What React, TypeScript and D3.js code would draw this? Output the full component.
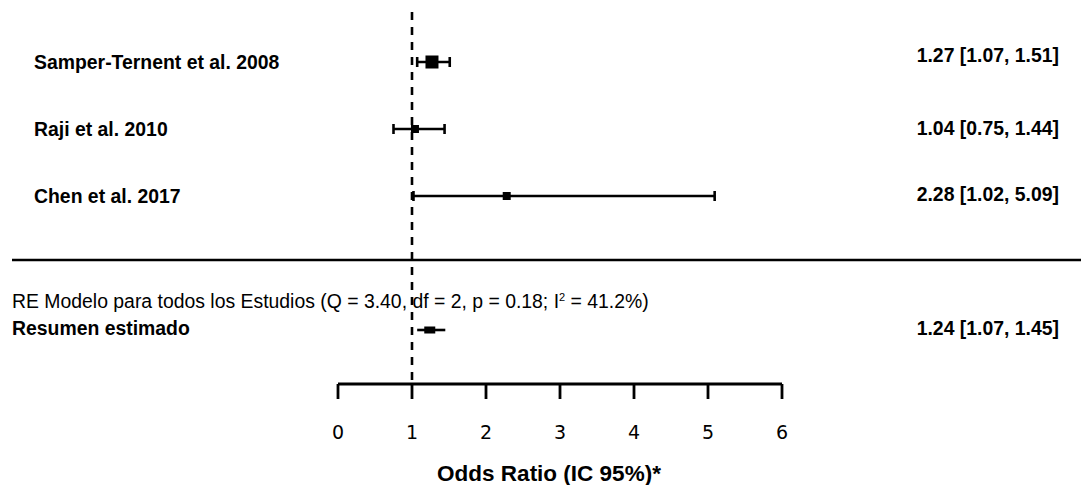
import React from "react";
import * as d3 from "d3";

const studies = ["Samper-Ternent et al. 2008", "Raji et al. 2010", "Chen et al. 2017"];
const estimates = [1.27, 1.04, 2.28];
const lower = [1.07, 0.75, 1.02];
const upper = [1.51, 1.44, 5.09];
const weights = [45, 20, 20];
const ciLabels = ["1.27 [1.07, 1.51]", "1.04 [0.75, 1.44]", "2.28 [1.02, 5.09]"];

const summaryLabel = "Resumen estimado";
const summaryEstimate = 1.24;
const summaryLower = 1.07;
const summaryUpper = 1.45;
const summaryCiLabel = "1.24 [1.07, 1.45]";
const modelText = "RE Modelo para todos los Estudios (Q = 3.40, df = 2, p = 0.18; I";
const modelTextEnd = " = 41.2%)";

const xTicks = [0, 1, 2, 3, 4, 5, 6];
const xTitle = "Odds Ratio (IC 95%)*";
const nullValue = 1;

const W = 1081;
const H = 485;
const ARIAL = "'Liberation Sans', Arial, sans-serif";
const VERD = "'DejaVu Sans', Verdana, sans-serif";
// layout: vertical offsets of right-hand labels relative to their row
const ciLabelDy = [0, 6, 5];

export default function App() {
  const x = d3.scaleLinear().domain([0, 6]).range([338, 782]);
  const y = d3.scalePoint<string>().domain(studies).range([62, 196]);
  const size = d3.scaleLinear().domain([20, 45]).range([8, 13]);
  const axisY = 384;
  const sepY = 260;
  const sumY = 330;
  const capH = 10;
  const lw = 2.6;
  const fs = 19.4;

  return (
    <svg width={W} height={H} style={{ position: "absolute", left: 0, top: 0, background: "#fff" }}>
      {/* null line */}
      <line x1={x(nullValue)} x2={x(nullValue)} y1={12} y2={axisY} stroke="#000" strokeWidth={2.6} strokeDasharray="8 7" />

      {/* studies */}
      {studies.map((s, i) => {
        const yy = y(s)!;
        const sz = size(weights[i]);
        return (
          <g key={s}>
            <text x={34} y={yy + 7} fontFamily={ARIAL} fontWeight="bold" fontSize={fs} fill="#000">{s}</text>
            <line x1={x(lower[i])} x2={x(upper[i])} y1={yy} y2={yy} stroke="#000" strokeWidth={lw} />
            <line x1={x(lower[i])} x2={x(lower[i])} y1={yy - capH / 2} y2={yy + capH / 2} stroke="#000" strokeWidth={lw} />
            <line x1={x(upper[i])} x2={x(upper[i])} y1={yy - capH / 2} y2={yy + capH / 2} stroke="#000" strokeWidth={lw} />
            <rect x={x(estimates[i]) - sz / 2} y={yy - sz / 2} width={sz} height={sz} fill="#000" />
            <text x={1059} y={yy + ciLabelDy[i]} textAnchor="end" fontFamily={ARIAL} fontWeight="bold" fontSize={fs} fill="#000">{ciLabels[i]}</text>
          </g>
        );
      })}

      {/* separator */}
      <line x1={12} x2={W} y1={sepY} y2={sepY} stroke="#000" strokeWidth={2.6} />

      {/* model text */}
      <text x={12} y={308} fontFamily={ARIAL} fontSize={fs} fill="#000">
        {modelText}
        <tspan dy={-7} fontSize={11}>2</tspan>
        <tspan dy={7}>{modelTextEnd}</tspan>
      </text>

      {/* summary */}
      <text x={12} y={sumY + 5} fontFamily={ARIAL} fontWeight="bold" fontSize={fs} fill="#000">{summaryLabel}</text>
      <line x1={x(summaryLower)} x2={x(summaryUpper)} y1={sumY} y2={sumY} stroke="#000" strokeWidth={2.6} />
      <rect x={x(summaryEstimate) - 5.5} y={sumY - 3.5} width={11} height={7} fill="#000" />
      <text x={1059} y={sumY + 5} textAnchor="end" fontFamily={ARIAL} fontWeight="bold" fontSize={fs} fill="#000">{summaryCiLabel}</text>

      {/* axis */}
      <line x1={x(xTicks[0])} x2={x(xTicks[xTicks.length - 1])} y1={axisY} y2={axisY} stroke="#000" strokeWidth={2.8} />
      {xTicks.map((t) => (
        <g key={t}>
          <line x1={x(t)} x2={x(t)} y1={axisY} y2={axisY + 15} stroke="#000" strokeWidth={2.8} />
          <text x={x(t)} y={439} textAnchor="middle" fontFamily={VERD} fontSize={19} fill="#000">{t}</text>
        </g>
      ))}
      <text x={549} y={481} textAnchor="middle" fontFamily={ARIAL} fontWeight="bold" fontSize={22.5} fill="#000">{xTitle}</text>
    </svg>
  );
}
